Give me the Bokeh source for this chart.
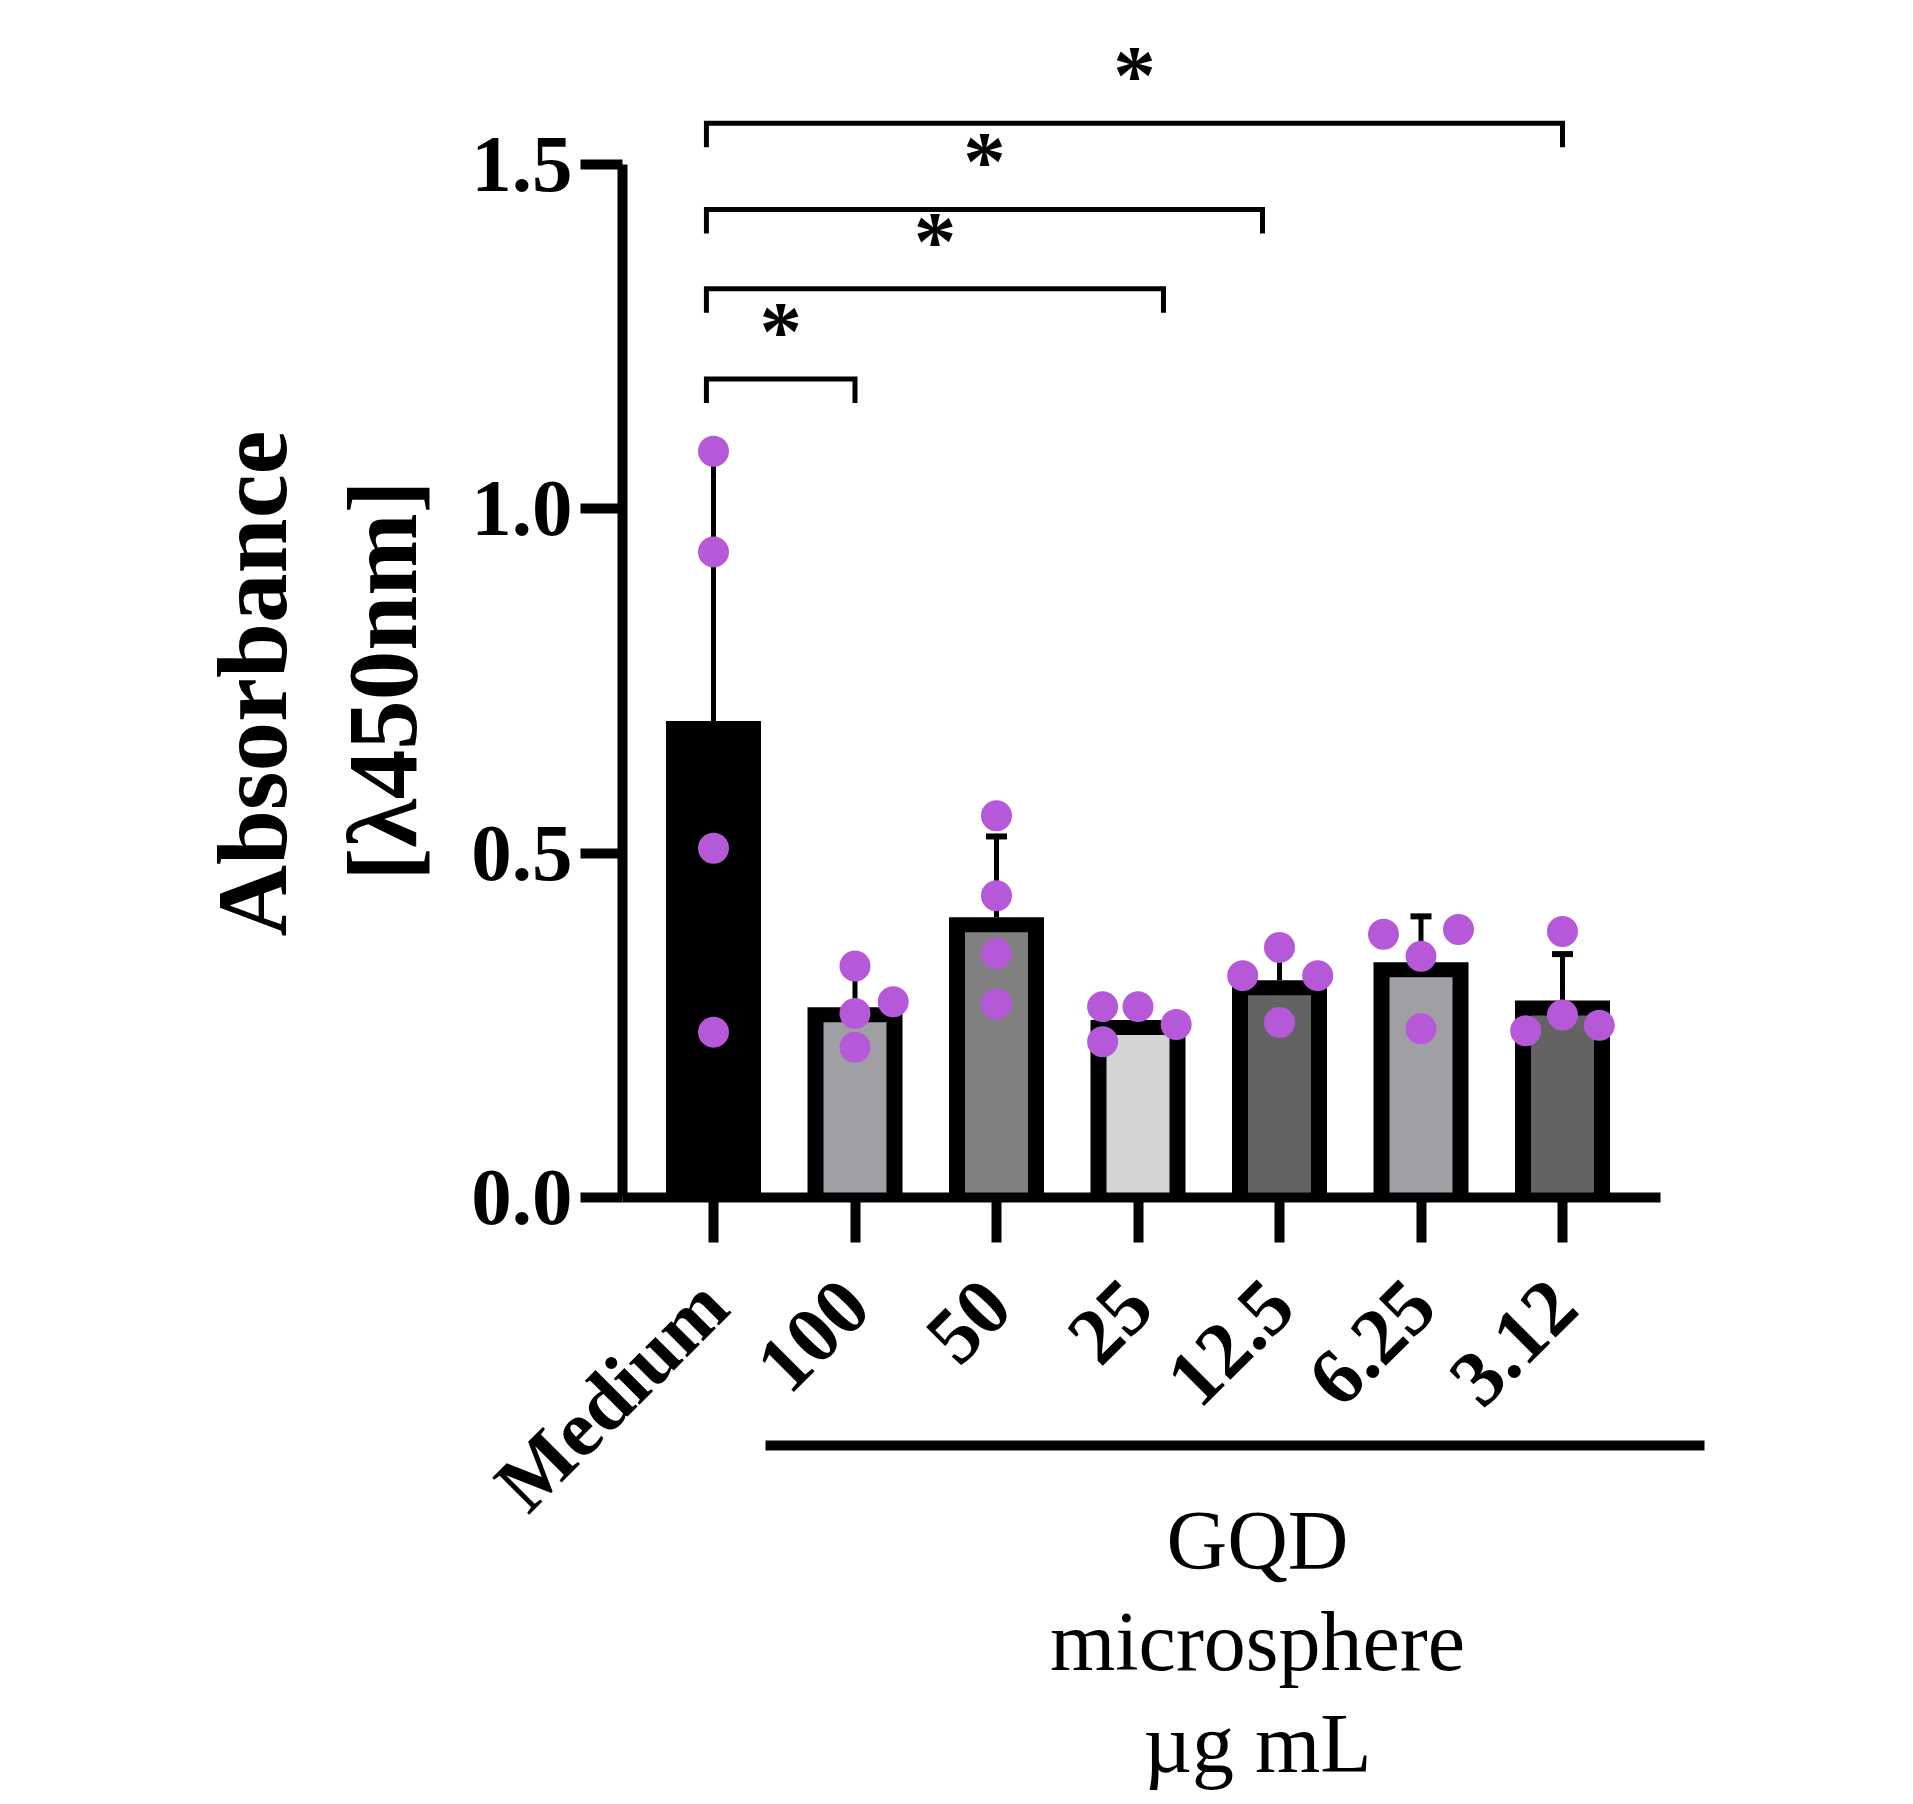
import numpy as np
from math import pi
from bokeh.plotting import figure
from bokeh.models import Range1d, FixedTicker, NumeralTickFormatter
from bokeh.embed import file_html
from bokeh.resources import INLINE
from bokeh.core.properties import value

# ---------------- data ----------------
categories = ["Medium", "100", "50", "25", "12.5", "6.25", "3.12"]
replicates = [
    [1.083, 0.937, 0.507, 0.240],
    [0.336, 0.284, 0.267, 0.218],
    [0.554, 0.438, 0.354, 0.281],
    [0.277, 0.277, 0.251, 0.226],
    [0.363, 0.322, 0.322, 0.254],
    [0.382, 0.389, 0.350, 0.245],
    [0.386, 0.265, 0.242, 0.250],
]
# horizontal scatter offsets of the replicate dots (category units)
dot_offsets = [
    [0, 0, 0, 0],
    [0, 0.27, 0, 0],
    [0, 0, 0, 0],
    [-0.25, 0, 0.27, -0.25],
    [0, -0.26, 0.27, 0],
    [-0.265, 0.265, 0, 0],
    [0, 0, -0.26, 0.26],
]
bar_colors = ["#000000", "#a0a0a4", "#808080", "#d4d4d4", "#636363", "#a0a0a4", "#636363"]
# significance brackets: (left end, right end, level, label)
brackets = [
    (-0.05, 1.0, 1.188, "*"),
    (-0.05, 3.18, 1.319, "*"),
    (-0.05, 3.88, 1.434, "*"),
    (-0.05, 6.0, 1.559, "*"),
]
y_ticks = [0.0, 0.5, 1.0, 1.5]
y_title = ["Absorbance", "[λ450nm]"]
group_title = ["GQD", "microsphere", "µg mL"]

# ---------------- layout helpers (pixel -> data) ----------------
X0_PX, DX_PX = 713.0, 141.5     # pixel of category 0, pixels per category
Y0_PX, DY_PX = 1197.0, 689.0    # pixel of y=0, pixels per unit

def X(px):
    return (px - X0_PX) / DX_PX

def Y(py):
    return (Y0_PX - py) / DY_PX

W, H = 1913, 1804

p = figure(width=W, height=H, output_backend="svg", toolbar_location=None,
           x_range=Range1d(X(0), X(W)), y_range=Range1d(Y(H), Y(0)),
           min_border_left=0, min_border_right=0,
           min_border_top=0, min_border_bottom=0)
p.outline_line_color = None
p.grid.visible = False
p.background_fill_color = "white"
p.border_fill_color = "white"

SERIF = "Liberation Serif"

# x axis (drawn at y = 0)
xa = p.xaxis[0]
xa.fixed_location = 0
xa.bounds = (X(622), X(1660))
xa.ticker = FixedTicker(ticks=list(range(len(categories))))
xa.major_label_overrides = {i: c for i, c in enumerate(categories)}
xa.major_label_orientation = pi / 4
xa.axis_line_width = 10
xa.major_tick_line_width = 10
xa.major_tick_out = 45
xa.major_tick_in = 0
xa.minor_tick_line_color = None
xa.major_label_text_font = SERIF
xa.major_label_text_font_style = "bold"
xa.major_label_text_font_size = "80px"
xa.major_label_text_color = "black"
xa.major_label_standoff = 50

# y axis (drawn at the left edge of the plotting area)
ya = p.yaxis[0]
ya.fixed_location = X(622)
ya.ticker = FixedTicker(ticks=y_ticks)
ya.formatter = NumeralTickFormatter(format="0.0")
ya.bounds = (0, 1.5)
ya.axis_line_width = 10
ya.major_tick_line_width = 10
ya.major_tick_out = 42
ya.major_tick_in = 0
ya.minor_tick_line_color = None
ya.major_label_text_font = SERIF
ya.major_label_text_font_style = "bold"
ya.major_label_text_font_size = "81px"
ya.major_label_text_color = "black"
ya.major_label_standoff = 8

# ---------------- bars ----------------
xs = np.arange(len(categories), dtype=float)
means = np.array([np.mean(r) for r in replicates])
sds = np.array([np.std(r, ddof=1) for r in replicates])

bar_w = 95 / DX_PX
inner_w = bar_w - 2 * 16 / DX_PX
p.vbar(x=xs, top=means, bottom=0, width=bar_w, fill_color="black", line_color=None)
p.vbar(x=xs, top=means - 15 / DY_PX, bottom=0, width=inner_w,
       fill_color=bar_colors, line_color=None)

# error bars (mean + SD)
up = means + sds
p.segment(x0=xs, y0=means, x1=xs, y1=up, line_color="black", line_width=5)
cap = 10.5 / DX_PX
p.segment(x0=xs - cap, y0=up, x1=xs + cap, y1=up, line_color="black", line_width=6)

# dots
dx, dy = [], []
for i, (vals, offs) in enumerate(zip(replicates, dot_offsets)):
    for v, o in zip(vals, offs):
        dx.append(i + o)
        dy.append(v)
p.scatter(x=dx, y=dy, size=31, fill_color="#b659d8", line_color=None)

# significance brackets
drop = 24 / DY_PX
bxs, bys, sx, sy, st = [], [], [], [], []
for x0, x1, lvl, lab in brackets:
    bxs.append([x0, x0, x1, x1])
    bys.append([lvl - drop, lvl, lvl, lvl - drop])
    sx.append((x0 + x1) / 2)
    sy.append(lvl + 48 / DY_PX)
    st.append(lab)
p.multi_line(xs=bxs, ys=bys, line_color="black", line_width=5, line_join="miter")
p.text(x=sx, y=sy, text=st, text_font=value(SERIF), text_font_style="bold",
       text_font_size="85px", text_align="center", text_baseline="alphabetic",
       text_color="black")

# y-axis title (two lines, rotated)
p.text(x=[X(252), X(382)], y=[Y(683), Y(680)], text=y_title, angle=pi / 2,
       text_font=value(SERIF), text_font_style="bold", text_font_size="99px",
       text_align="center", text_baseline="alphabetic", text_color="black")

# group line and group title
p.segment(x0=[X(765)], y0=[Y(1445)], x1=[X(1704)], y1=[Y(1445)],
          line_color="black", line_width=10)
p.text(x=[X(1257)] * 3, y=[Y(1540), Y(1641), Y(1743)], text=group_title,
       text_font=value(SERIF), text_font_size="84px", text_align="center",
       text_baseline="alphabetic", text_color="black")

open("out.html", "w").write(file_html(p, INLINE))
